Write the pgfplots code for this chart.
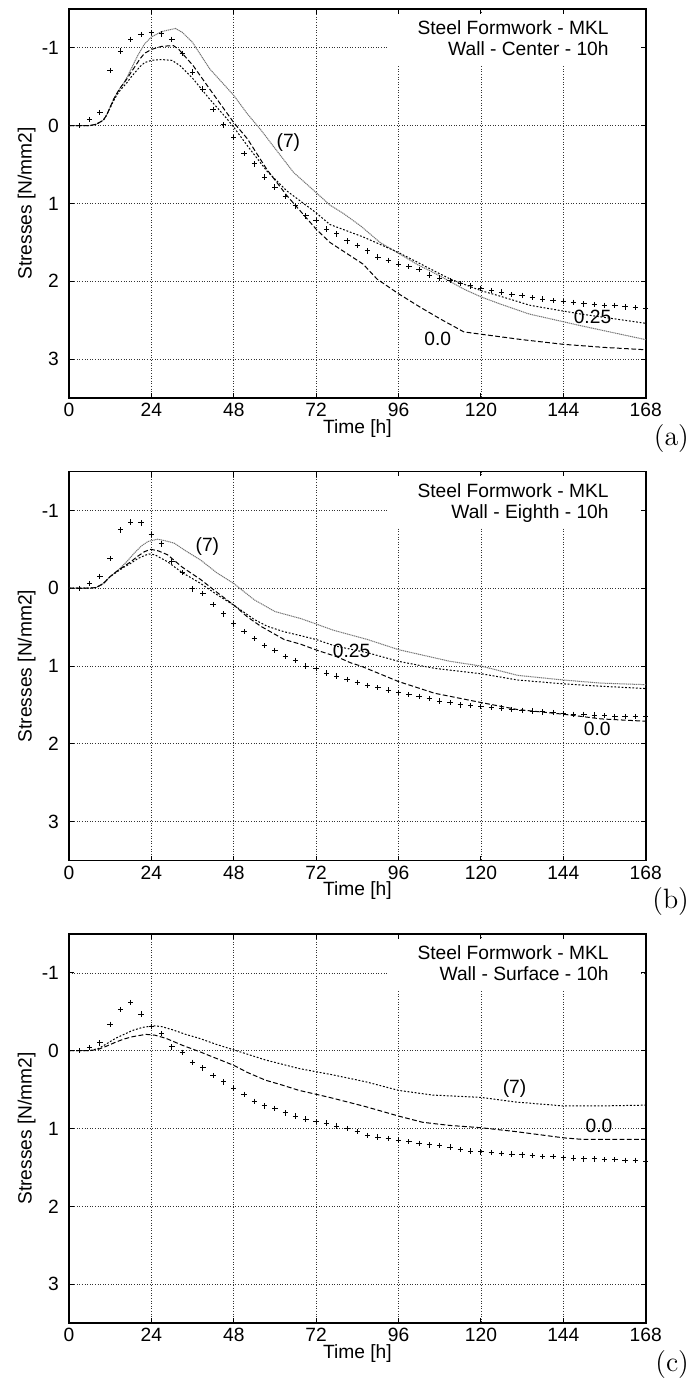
\documentclass[border=0pt]{standalone}
\usepackage{fontspec}
\usepackage{pgfplots}
\pgfplotsset{compat=1.18}
\newfontfamily\arial{Liberation Sans}
\newcommand\lab{\arial\fontsize{9.6}{11.5}\selectfont}
\newcommand\plab{\fontsize{14}{16}\selectfont}

\pgfplotsset{
 panel/.style={
  scale only axis, width=288.35pt, height=194.5pt,
  xmin=0, xmax=168, ymin=-1.5, ymax=3.5, y dir=reverse,
  xtick={0,24,48,72,96,120,144,168},
  xticklabels={0,24,48,72,96,120,144,168},
  ytick={-1,0,1,2,3}, yticklabels={-1,0,1,2,3},
  tick align=inside, major tick length=2.5pt,
  tick style={black, line width=0.5pt},
  grid=major,
  major grid style={black!80, line width=0.4pt, dash pattern=on 0.5pt off 0.8pt},
  axis line style={line width=0.8pt},
  xticklabel style={font=\lab, anchor=base, yshift=-9.35pt, inner sep=0pt},
  yticklabel style={font=\lab, anchor=east, inner sep=0pt, xshift=-4.85pt},
  xlabel={Time [h]}, ylabel={Stresses [N/mm2]},
  every axis x label/.style={at={(axis description cs:0.5,-0.09)}, anchor=base, font=\lab},
  every axis y label/.style={at={(axis description cs:-0.065,0.5)}, rotate=90, anchor=base, font=\lab},
  clip=false,
 },
 meas/.style={only marks, mark=+, mark size=1.35pt, black, mark options={line width=0.5pt}},
 greyl/.style={no marks, color=black!55, line width=0.5pt, dash pattern=on 0.6pt off 0.35pt},
 dotl/.style={no marks, black, line width=0.5pt, dash pattern=on 0.9pt off 0.9pt},
 dashl/.style={no marks, black, line width=0.5pt, dash pattern=on 2.4pt off 1.2pt},
}

\begin{document}
\begin{tikzpicture}
\path[use as bounding box] (0,0) rectangle (345.5pt,691pt);

% ---------------- (a) ----------------
\begin{axis}[panel, at={(34.5pt,492pt)}, anchor=south west]
\fill[white] (axis cs:92.6,-1.44) rectangle (axis cs:166,-0.77);
\addplot[greyl] coordinates {(0,0)(6,0)(8,-0.02)(10,-0.07)(11,-0.14)(12,-0.24)(13,-0.34)(14,-0.42)(15,-0.49)(16,-0.55)(17,-0.63)(18,-0.72)(20,-0.9)(22,-1.05)(24,-1.14)(27,-1.21)(31,-1.25)(33,-1.2)(36,-1.07)(41,-0.73)(48,-0.39)(52,-0.15)(56,0.06)(60.5,0.32)(65.4,0.6)(72,0.86)(76,1.02)(80,1.13)(85,1.29)(90.6,1.50)(96,1.64)(101.3,1.78)(108,1.93)(115,2.10)(120,2.20)(125.5,2.29)(134,2.42)(149,2.57)(168,2.75)};
\addplot[dotl] coordinates {(0,0)(6,0)(8,-0.02)(10,-0.07)(11,-0.14)(12,-0.23)(13,-0.32)(14,-0.4)(15,-0.46)(16,-0.51)(17,-0.56)(18,-0.62)(20.7,-0.76)(22,-0.81)(24,-0.84)(27,-0.85)(30,-0.84)(32.4,-0.77)(36.2,-0.6)(41,-0.34)(46,-0.09)(48,0.02)(52,0.26)(57.6,0.58)(63.5,0.84)(72,1.12)(76,1.27)(85.7,1.43)(96,1.63)(105.2,1.84)(111,1.97)(120,2.12)(125.5,2.19)(134.4,2.31)(149,2.42)(168,2.54)};
\addplot[dashl] coordinates {(0,0)(6,0)(8,-0.02)(10,-0.07)(11,-0.14)(12,-0.24)(13,-0.34)(14,-0.42)(15,-0.49)(16,-0.55)(17,-0.61)(18,-0.68)(20.7,-0.86)(22,-0.93)(24,-0.98)(27,-1.02)(30.4,-1.03)(32,-0.98)(34,-0.88)(36.2,-0.77)(41,-0.47)(48,-0.04)(52,0.17)(57.6,0.56)(63.5,0.9)(72,1.33)(76,1.50)(85.7,1.78)(89.7,1.97)(96,2.16)(102.2,2.33)(108,2.48)(115,2.65)(120,2.68)(132,2.75)(144,2.81)(156,2.85)(168,2.88)};
\addplot[meas] coordinates {(3,0)(6,-0.08)(9,-0.17)(12,-0.71)(15,-0.96)(18,-1.11)(21,-1.17)(24,-1.20)(27,-1.18)(30,-1.11)(33,-0.93)(36,-0.69)(39,-0.47)(42,-0.21)(45,-0.01)(48,0.15)(51,0.36)(54,0.49)(57,0.66)(60,0.79)(63,0.91)(66,1.03)(69,1.16)(72,1.22)(75,1.33)(78,1.39)(81,1.48)(84,1.54)(87,1.61)(90,1.69)(93,1.73)(96,1.78)(99,1.81)(102,1.85)(105,1.92)(108,1.96)(111,1.99)(114,2.03)(117,2.06)(120,2.09)(123,2.12)(126,2.14)(129,2.17)(132,2.18)(135,2.21)(138,2.23)(141,2.25)(144,2.26)(147,2.27)(150,2.29)(153,2.30)(156,2.31)(159,2.31)(162,2.33)(165,2.34)(168,2.35)};
\node[font=\lab, anchor=base east, inner sep=0pt] at (axis cs:157.3,-1.166) {Steel Formwork - MKL};
\node[font=\lab, anchor=base east, inner sep=0pt] at (axis cs:157.3,-0.90) {Wall - Center - 10h};
\node[font=\lab, inner sep=0pt] at (axis cs:63.9,0.21) {(7)};
\node[font=\lab, inner sep=0pt] at (axis cs:152.5,2.46) {0.25};
\node[font=\lab, inner sep=0pt] at (axis cs:107.4,2.74) {0.0};
\node[anchor=base east, inner sep=0pt, font=\plab] at (axis description cs:1.0756,-0.1234) {(a)};
\end{axis}

% ---------------- (b) ----------------
\begin{axis}[panel, at={(34.5pt,260.75pt)}, anchor=south west]
\fill[white] (axis cs:92.6,-1.44) rectangle (axis cs:166,-0.77);
\addplot[greyl] coordinates {(0,0)(6,0)(8,-0.01)(10,-0.06)(12,-0.15)(14,-0.22)(15,-0.26)(17,-0.35)(19,-0.45)(21,-0.54)(23,-0.60)(25.8,-0.63)(28,-0.61)(30.6,-0.58)(34,-0.48)(38.4,-0.36)(43,-0.2)(48,-0.06)(54,0.15)(60,0.30)(67.5,0.39)(72,0.46)(77,0.54)(82,0.60)(87,0.66)(96,0.79)(104,0.87)(111,0.94)(120,1.00)(130.7,1.12)(144,1.18)(155,1.22)(168,1.24)};
\addplot[dotl] coordinates {(0,0)(6,0)(8,-0.01)(10,-0.06)(12,-0.15)(14,-0.21)(16,-0.27)(18,-0.32)(20,-0.38)(22,-0.42)(23.3,-0.44)(25,-0.43)(28.7,-0.34)(33,-0.2)(38.4,-0.06)(43,0.08)(48.1,0.22)(53.9,0.40)(57.8,0.49)(62.7,0.56)(67.5,0.61)(72,0.66)(77.3,0.74)(87,0.83)(96,0.94)(106.5,1.03)(120.1,1.10)(130.7,1.18)(144.1,1.23)(155,1.26)(168,1.29)};
\addplot[dashl] coordinates {(0,0)(6,0)(8,-0.01)(10,-0.06)(12,-0.15)(14,-0.22)(16,-0.28)(18,-0.34)(20,-0.41)(22,-0.47)(23.8,-0.50)(26,-0.48)(28.7,-0.43)(33,-0.27)(38.4,-0.11)(43,0.05)(48.1,0.22)(52,0.37)(55.9,0.49)(62.7,0.66)(67.5,0.72)(72.4,0.80)(78,0.88)(82.1,0.96)(85,1.00)(96,1.20)(106.5,1.35)(120.1,1.47)(130.7,1.56)(144.1,1.62)(155,1.68)(168,1.71)};
\addplot[meas] coordinates {(3,0)(6,-0.06)(9,-0.15)(12,-0.38)(15,-0.75)(18,-0.85)(21,-0.84)(24,-0.69)(27,-0.57)(30,-0.34)(33,-0.20)(36,0.01)(39,0.07)(42,0.21)(45,0.33)(48,0.46)(51,0.56)(54,0.65)(57,0.74)(60,0.80)(63,0.88)(66,0.93)(69,1.00)(72,1.03)(75,1.09)(78,1.13)(81,1.17)(84,1.21)(87,1.25)(90,1.28)(93,1.31)(96,1.34)(99,1.37)(102,1.39)(105,1.42)(108,1.45)(111,1.47)(114,1.50)(117,1.51)(120,1.52)(123,1.53)(126,1.54)(129,1.56)(132,1.57)(135,1.58)(138,1.59)(141,1.60)(144,1.61)(147,1.62)(150,1.62)(153,1.63)(156,1.64)(159,1.65)(162,1.65)(165,1.65)(168,1.65)};
\node[font=\lab, anchor=base east, inner sep=0pt] at (axis cs:157.3,-1.166) {Steel Formwork - MKL};
\node[font=\lab, anchor=base east, inner sep=0pt] at (axis cs:157.3,-0.90) {Wall - Eighth - 10h};
\node[font=\lab, inner sep=0pt] at (axis cs:40.3,-0.53) {(7)};
\node[font=\lab, inner sep=0pt] at (axis cs:82.3,0.81) {0.25};
\node[font=\lab, inner sep=0pt] at (axis cs:153.9,1.81) {0.0};
\node[anchor=base east, inner sep=0pt, font=\plab] at (axis description cs:1.0756,-0.1234) {(b)};
\end{axis}

% ---------------- (c) ----------------
\begin{axis}[panel, at={(34.5pt,29.5pt)}, anchor=south west]
\fill[white] (axis cs:92.6,-1.44) rectangle (axis cs:166,-0.77);
\addplot[dotl] coordinates {(0,0)(6,0)(8.7,-0.03)(11,-0.09)(13.6,-0.16)(16,-0.21)(18.5,-0.26)(21.4,-0.30)(24.8,-0.32)(27,-0.31)(30.1,-0.27)(34,-0.21)(37.9,-0.16)(43,-0.08)(48.1,-0.01)(57.3,0.12)(67.1,0.23)(76.8,0.31)(86.5,0.40)(96,0.51)(105.9,0.57)(120,0.60)(130.2,0.66)(144.1,0.71)(154.5,0.71)(168,0.70)};
\addplot[dashl] coordinates {(0,0)(6,0)(8.7,-0.02)(11,-0.06)(13.6,-0.11)(16,-0.15)(18.5,-0.18)(22.4,-0.21)(25,-0.20)(28.2,-0.16)(33,-0.07)(37.9,0.01)(43,0.10)(48.1,0.19)(52,0.28)(57.3,0.38)(62,0.44)(67,0.51)(72,0.56)(76.8,0.61)(86.5,0.72)(96,0.84)(103,0.92)(110.8,0.96)(120,0.99)(130.2,1.04)(144.1,1.12)(149.6,1.14)(168,1.14)};
\addplot[meas] coordinates {(3,0)(6,-0.04)(9,-0.10)(12,-0.34)(15,-0.53)(18,-0.62)(21,-0.47)(24,-0.31)(27,-0.22)(30,-0.05)(33,0.02)(36,0.15)(39,0.22)(42,0.32)(45,0.40)(48,0.48)(51,0.56)(54,0.65)(57,0.71)(60,0.74)(63,0.80)(66,0.84)(69,0.88)(72,0.91)(75,0.93)(78,0.97)(81,1.00)(84,1.04)(87,1.09)(90,1.11)(93,1.13)(96,1.15)(99,1.17)(102,1.19)(105,1.21)(108,1.22)(111,1.24)(114,1.27)(117,1.29)(120,1.30)(123,1.31)(126,1.32)(129,1.33)(132,1.34)(135,1.35)(138,1.36)(141,1.36)(144,1.37)(147,1.38)(150,1.39)(153,1.39)(156,1.40)(159,1.40)(162,1.41)(165,1.41)(168,1.42)};
\node[font=\lab, anchor=base east, inner sep=0pt] at (axis cs:157.3,-1.166) {Steel Formwork - MKL};
\node[font=\lab, anchor=base east, inner sep=0pt] at (axis cs:157.3,-0.90) {Wall - Surface - 10h};
\node[font=\lab, inner sep=0pt] at (axis cs:129.8,0.48) {(7)};
\node[font=\lab, inner sep=0pt] at (axis cs:154.4,0.97) {0.0};
\node[anchor=base east, inner sep=0pt, font=\plab] at (axis description cs:1.0756,-0.1234) {(c)};
\end{axis}
\end{tikzpicture}
\end{document}
